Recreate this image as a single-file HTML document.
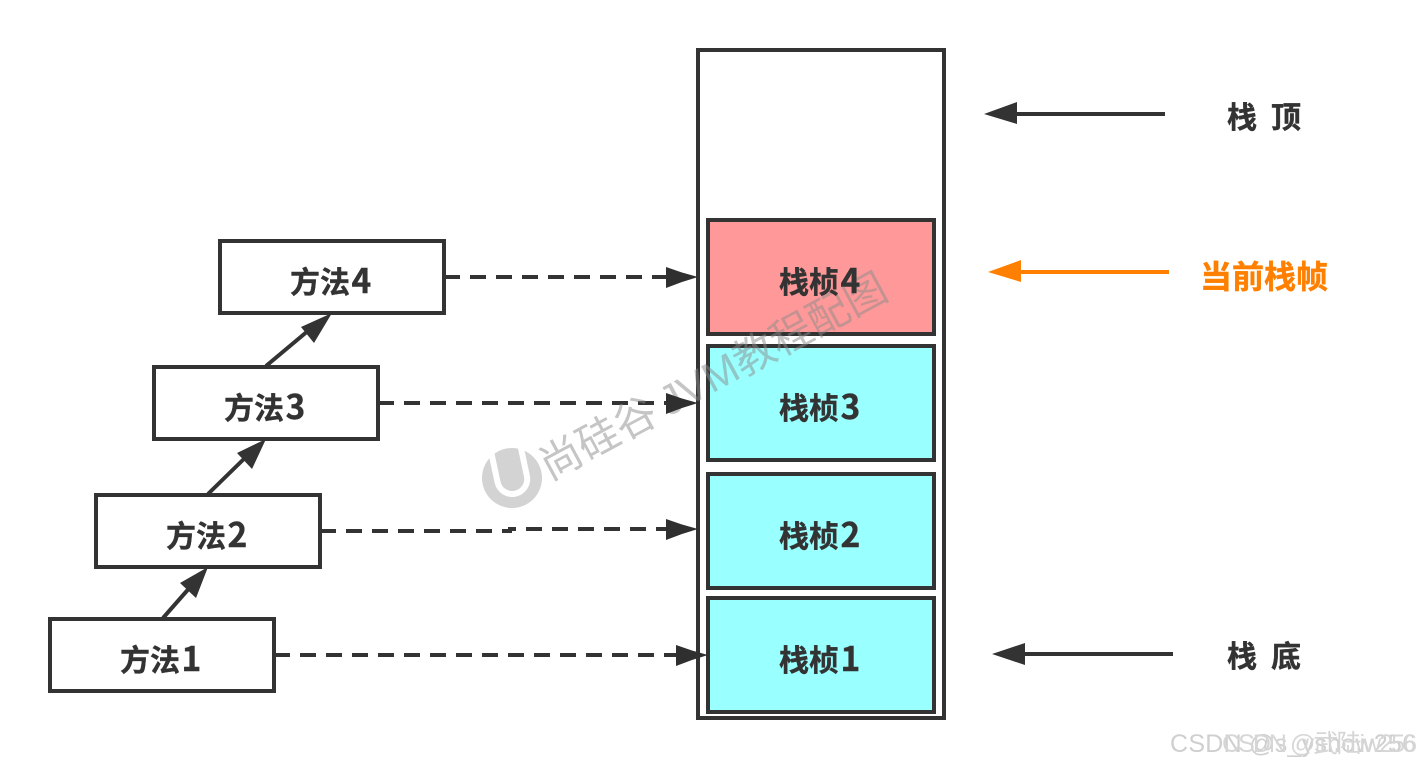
<!DOCTYPE html>
<html lang="zh">
<head>
<meta charset="utf-8">
<title>栈帧</title>
<style>
html,body{margin:0;padding:0;background:#fff;width:1420px;height:768px;overflow:hidden}
svg{display:block}
text{font-family:"Liberation Sans","Noto Sans CJK SC",sans-serif}
.b{font-family:"Noto Sans CJK SC","Liberation Sans",sans-serif;font-weight:700;font-size:30px;fill:#333;stroke:#333;stroke-width:.4}
.b tspan{font-size:33.5px}
.box{stroke:#333;stroke-width:4}
.dash{stroke:#333;stroke-width:4;stroke-dasharray:16 10;fill:none}
.line{stroke:#333;stroke-width:4;fill:none}
</style>
</head>
<body>
<svg width="1420" height="768" viewBox="0 0 1420 768" xmlns="http://www.w3.org/2000/svg">
<rect width="1420" height="768" fill="#fff"/>

<!-- dashed connectors -->
<path class="dash" d="M444 277H670"/>
<path class="dash" d="M378 403H670"/>
<path class="dash" d="M320 531H510V529H670"/>
<path class="dash" d="M274 655H680"/>

<!-- stack -->
<rect class="box" x="698" y="50" width="246" height="668" fill="#fff"/>
<rect class="box" x="708" y="220" width="226" height="114" fill="#ff9999"/>
<rect class="box" x="708" y="346" width="226" height="114" fill="#99ffff"/>
<rect class="box" x="708" y="474" width="226" height="114" fill="#99ffff"/>
<rect class="box" x="708" y="598" width="226" height="114" fill="#99ffff"/>

<!-- methods -->
<rect class="box" x="220" y="241" width="224" height="72" fill="#fff"/>
<rect class="box" x="154" y="367" width="224" height="72" fill="#fff"/>
<rect class="box" x="96" y="495" width="224" height="72" fill="#fff"/>
<rect class="box" x="50" y="619" width="224" height="72" fill="#fff"/>

<!-- watermark -->
<g opacity="0.5">
<g transform="translate(512,478) rotate(-12)">
<circle r="30" fill="#a8a8a8"/>
<path d="M-15 -34V1a15 15 0 0 0 30 0V-34" fill="none" stroke="#fff" stroke-width="6"/>
</g>
<text transform="translate(549.5,481) rotate(-28.3)" font-size="42" fill="#8c8c8c" style="font-family:'Noto Sans CJK SC','Liberation Sans',sans-serif">尚硅谷 <tspan style="font-family:'Liberation Sans',sans-serif">JVM</tspan>教程配图</text>
</g>

<!-- arrowheads on dashed connectors -->
<polygon fill="#2f2f2f" points="666,267 682,272.5 698,277 682,282 666,288"/>
<polygon fill="#2f2f2f" points="666,393 682,398.5 698,403 682,408 666,414"/>
<polygon fill="#2f2f2f" points="666,519 682,524.5 698,529 682,534 666,540"/>
<polygon fill="#2f2f2f" points="676,645 692,650.5 708,655 692,660 676,666"/>

<!-- solid up arrows -->
<path class="line" d="M163 618L192 585"/>
<polygon fill="#333" points="208,567 196,598 180,583"/>
<path class="line" d="M208 494L250 453"/>
<polygon fill="#333" points="266,439 252,469 237,453"/>
<path class="line" d="M266 366L315 325"/>
<polygon fill="#333" points="332,313 314,343 301,327"/>

<!-- right side arrows -->
<path class="line" d="M1165 114H1015"/>
<polygon fill="#333" points="984,114 1017,102 1017,124"/>
<path d="M1169 272H1019" stroke="#ff8000" stroke-width="4" fill="none"/>
<polygon fill="#ff8000" points="988,272 1021,260 1021,282"/>
<path class="line" d="M1173 654H1023"/>
<polygon fill="#333" points="992,654 1025,643 1025,665"/>

<!-- labels -->
<text class="b" x="290" y="293">方法<tspan dx="1.5">4</tspan></text>
<text class="b" x="224" y="419">方法<tspan dx="1.5">3</tspan></text>
<text class="b" x="166" y="547">方法<tspan dx="1.5">2</tspan></text>
<text class="b" x="120" y="671">方法<tspan dx="1.5">1</tspan></text>
<text class="b" x="779" y="293">栈桢<tspan dx="1.5">4</tspan></text>
<text class="b" x="779" y="419">栈桢<tspan dx="1.5">3</tspan></text>
<text class="b" x="779" y="547">栈桢<tspan dx="1.5">2</tspan></text>
<text class="b" x="779" y="671">栈桢<tspan dx="1.5">1</tspan></text>
<text class="b" x="1227" y="128">栈</text>
<text class="b" x="1271" y="128">顶</text>
<text class="b" x="1227" y="667">栈</text>
<text class="b" x="1271" y="667">底</text>
<text class="b" x="1200" y="288" style="font-size:32px;fill:#ff8000;stroke:#ff8000">当前栈帧</text>

<!-- CSDN mark -->
<text x="1170" y="752" font-size="25" fill="#cfcfcf" textLength="246">CSDN @s_yshow256</text>
<text x="1222" y="752" font-size="25" fill="#d6d6d6" textLength="195">CSDN @武陆iw256</text>
</svg>
</body>
</html>
